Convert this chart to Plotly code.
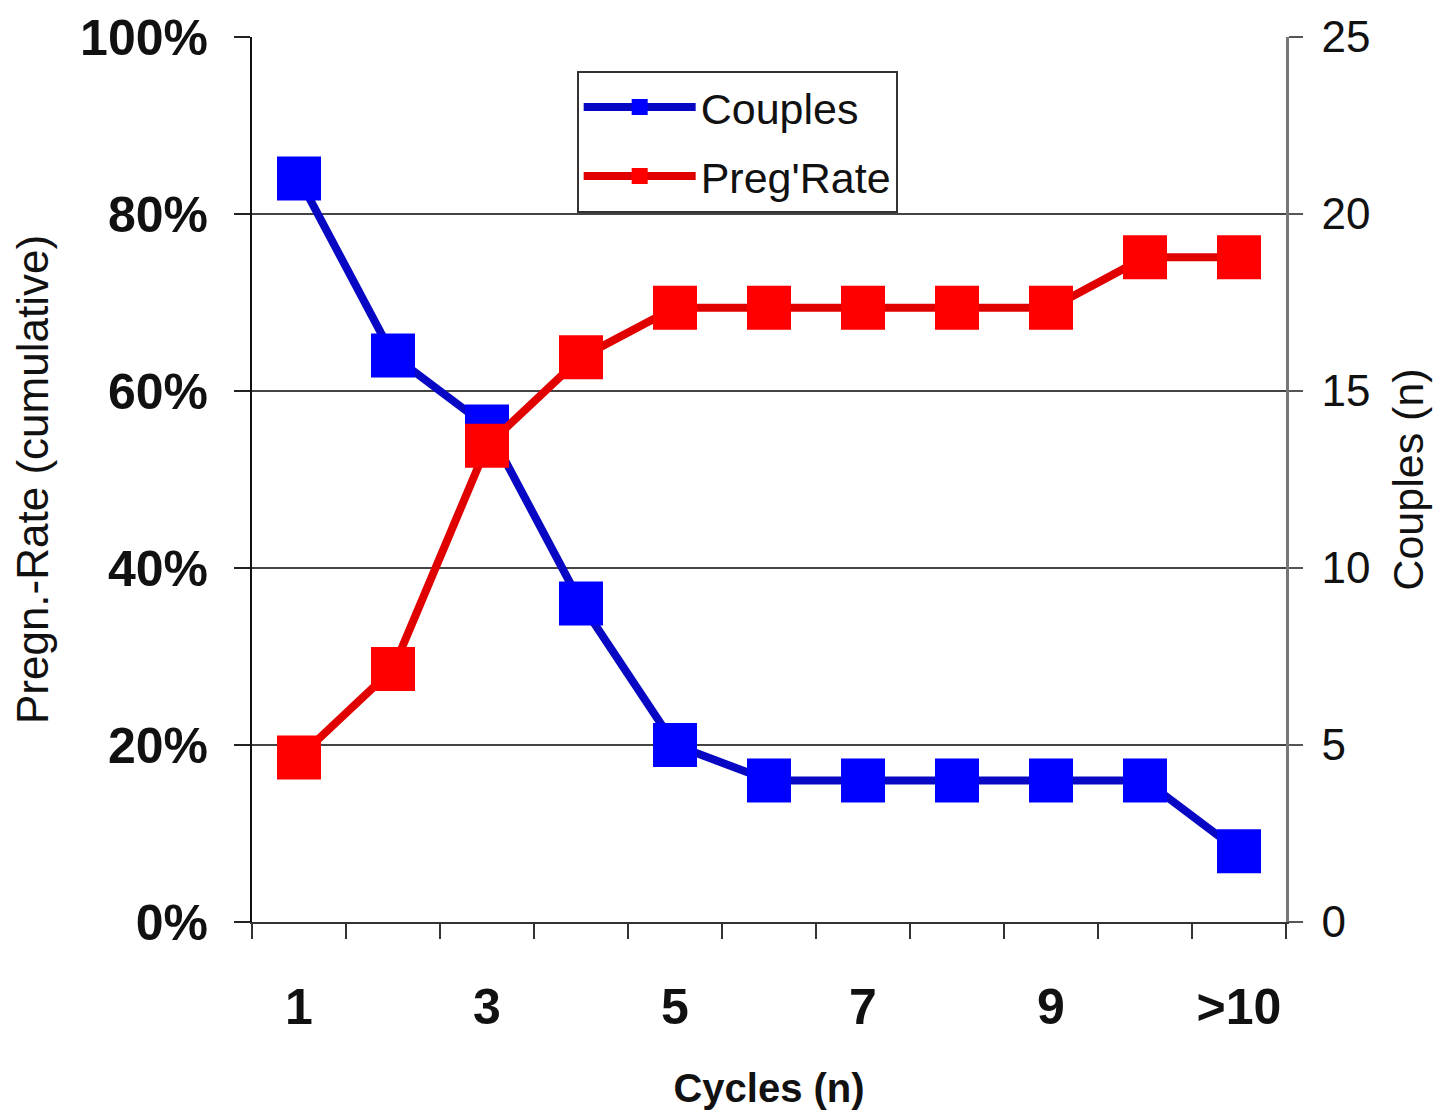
import plotly.graph_objects as go

cycles = ["1", "2", "3", "4", "5", "6", "7", "8", "9", "10", ">10"]
tick_labels = ["1", "", "3", "", "5", "", "7", "", "9", "", ">10"]
couples = [21, 16, 14, 9, 5, 4, 4, 4, 4, 4, 2]
preg_rate = [0.186, 0.286, 0.538, 0.638, 0.694, 0.694, 0.694, 0.694, 0.694, 0.751, 0.751]

FONT = "Liberation Sans, Arial, sans-serif"

fig = go.Figure()
fig.add_trace(go.Scatter(
    x=cycles, y=couples, name="Couples", yaxis="y", mode="lines+markers",
    line=dict(color="#0808c4", width=8),
    marker=dict(symbol="square", size=44, color="#0000ff"),
    legendgroup="a",
))
fig.add_trace(go.Scatter(
    x=cycles, y=preg_rate, name="Preg'Rate", yaxis="y2", mode="lines+markers",
    line=dict(color="#e00000", width=8),
    marker=dict(symbol="square", size=44, color="#ff0000"),
    legendgroup="b",
))

fig.update_layout(
    template="none",
    width=1443, height=1108,
    margin=dict(l=244, r=165, t=29, b=194, autoexpand=False),
    paper_bgcolor="white", plot_bgcolor="white",
    font=dict(family=FONT, color="#111"),
    showlegend=True,
    legend=dict(
        x=0.314, y=0.962, xanchor="left", yanchor="top",
        bgcolor="white", bordercolor="#333", borderwidth=2,
        font=dict(family=FONT, size=43, color="#111"),
        itemsizing="trace", itemwidth=112, tracegroupgap=10,
    ),
    xaxis=dict(
        type="category", range=[-0.5, 10.5],
        tickmode="array", tickvals=cycles, ticktext=tick_labels, tickangle=0,
        tickson="boundaries", ticks="outside", ticklen=15, tickwidth=2, tickcolor="#333",
        showline=True, linecolor="#333", linewidth=2, showgrid=False, zeroline=False,
        tickfont=dict(family=FONT, size=50, weight="bold", color="#111"),
        ticklabelstandoff=40,
        title=dict(text="Cycles (n)", font=dict(family=FONT, size=40, weight="bold", color="#111"), standoff=40),
        automargin=False,
    ),
    yaxis=dict(
        side="right", range=[0, 25], tickmode="linear", tick0=0, dtick=5,
        ticks="outside", ticklen=14, tickwidth=2, tickcolor="#555",
        showline=True, linecolor="#777", linewidth=2.5,
        showgrid=True, gridcolor="#444", gridwidth=2, zeroline=False,
        tickfont=dict(family=FONT, size=44, color="#111"),
        ticklabelstandoff=10,
        title=dict(text="Couples (n)", font=dict(family=FONT, size=43, color="#111"), standoff=24),
        automargin=False,
    ),
    yaxis2=dict(
        overlaying="y", side="left", range=[0, 1], tickmode="linear", tick0=0, dtick=0.2,
        tickformat=".0%",
        ticks="outside", ticklen=16, tickwidth=2, tickcolor="#222",
        showline=True, linecolor="#111", linewidth=2,
        showgrid=False, zeroline=False,
        tickfont=dict(family=FONT, size=50, weight="bold", color="#111"),
        ticklabelstandoff=16,
        title=dict(text="Pregn.-Rate (cumulative)", font=dict(family=FONT, size=44, color="#111"), standoff=18),
        automargin=False,
    ),
)

fig.write_html("out.html")
